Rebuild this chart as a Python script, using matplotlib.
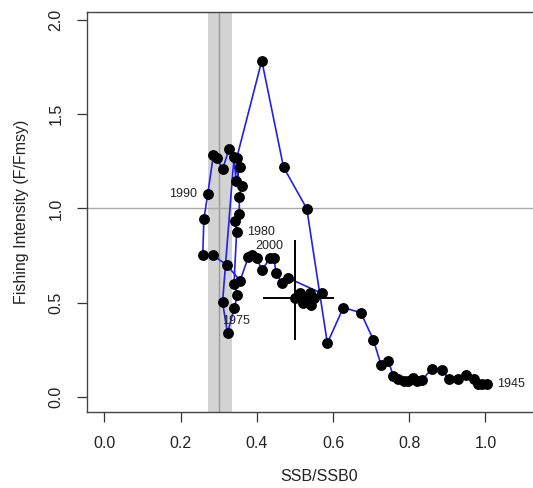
import numpy as np
import matplotlib
matplotlib.use("Agg")
import matplotlib.pyplot as plt

plt.rcParams['font.family'] = ['Liberation Sans', 'DejaVu Sans']

# trajectory, 1945 first
ssb = [1.003, 0.990, 0.981, 0.971, 0.949, 0.927, 0.905, 0.886, 0.859, 0.834,
       0.821, 0.811, 0.798, 0.785, 0.771, 0.758, 0.745, 0.726,
       0.706, 0.673, 0.627, 0.585, 0.531, 0.470, 0.413,
       0.347, 0.356, 0.345, 0.340, 0.310, 0.323,
       0.341, 0.349, 0.340, 0.347, 0.343, 0.354, 0.354, 0.360,
       0.327, 0.310, 0.296, 0.286, 0.271, 0.261, 0.258, 0.284, 0.321, 0.356,
       0.378, 0.387, 0.400, 0.413, 0.435, 0.445, 0.450, 0.465, 0.483,
       0.570, 0.550, 0.541, 0.540, 0.529, 0.522, 0.513, 0.500]
f_fmsy = [0.067, 0.067, 0.067, 0.095, 0.115, 0.097, 0.094, 0.143, 0.150, 0.090,
          0.083, 0.101, 0.087, 0.087, 0.095, 0.111, 0.193, 0.170,
          0.302, 0.447, 0.474, 0.285, 0.999, 1.219, 1.784,
          1.266, 1.219, 1.148, 1.272, 0.502, 0.338,
          0.474, 0.541, 0.600, 0.877, 0.934, 0.971, 1.063, 1.119,
          1.314, 1.208, 1.266, 1.284, 1.075, 0.943, 0.753, 0.753, 0.700, 0.617,
          0.744, 0.753, 0.736, 0.674, 0.736, 0.736, 0.660, 0.606, 0.630,
          0.550, 0.524, 0.488, 0.550, 0.524, 0.500, 0.550, 0.524]

# year labels: text, point index, offset in pixels, alignment
year_text = ["1945", "1975", "1980", "1990", "2000"]
year_idx = [0, 30, 34, 43, 49]
year_off = [(10, 0), (8, 12), (10, 0), (-11, 0), (7, 11)]
year_ha = ["left", "center", "left", "right", "left"]

# reference band and last-year uncertainty
band = (0.272, 0.336)
ref_x = 0.30
ref_y = 1.0
ci_x = (0.42, 0.60)
ci_y = (0.308, 0.828)

fig = plt.figure(figsize=(5.33, 4.88), dpi=100)
ax = fig.add_axes([0.1638, 0.1557, 0.8685, 0.8197])
ax.set_xlim(-0.045, 1.17)
ax.set_ylim(-0.08, 2.042)

ax.axvspan(band[0], band[1], color='#d3d3d3', lw=0, zorder=0)
ax.axvline(ref_x, color='#9a9a9a', lw=1, zorder=1)
ax.axhline(ref_y, color='#aaaaaa', lw=1, zorder=1)

ax.plot(ssb, f_fmsy, color='#2020ee', lw=1.2, zorder=2)
ax.plot(ssb, f_fmsy, 'o', color='black', ms=6.8, zorder=3)

ax.plot(ci_x, [f_fmsy[-1]] * 2, color='black', lw=1.4, zorder=4)
ax.plot([ssb[-1]] * 2, ci_y, color='black', lw=1.4, zorder=4)

for t, i, off, ha in zip(year_text, year_idx, year_off, year_ha):
    ax.annotate(t, (ssb[i], f_fmsy[i]), xytext=off, textcoords='offset pixels',
                ha=ha, va='center', fontsize=9, color='#222222')

ax.set_xticks([0.0, 0.2, 0.4, 0.6, 0.8, 1.0])
ax.set_xticklabels(["0.0", "0.2", "0.4", "0.6", "0.8", "1.0"])
ax.set_yticks([0.0, 0.5, 1.0, 1.5, 2.0])
ax.set_yticklabels(["0.0", "0.5", "1.0", "1.5", "2.0"], rotation=90, va='center')
ax.tick_params(direction='out', length=7.2, width=0.9, pad=10, labelsize=11.5,
               colors='#333333', labelcolor='#222222')
for s in ax.spines.values():
    s.set_color('#444444')
    s.set_linewidth(1.0)

ax.set_xlabel("SSB/SSB0", fontsize=11.5, labelpad=13, color='#222222')
ax.set_ylabel("Fishing Intensity (F/Fmsy)", fontsize=11.5, labelpad=14, color='#222222')

fig.savefig("out.png", dpi=100)
